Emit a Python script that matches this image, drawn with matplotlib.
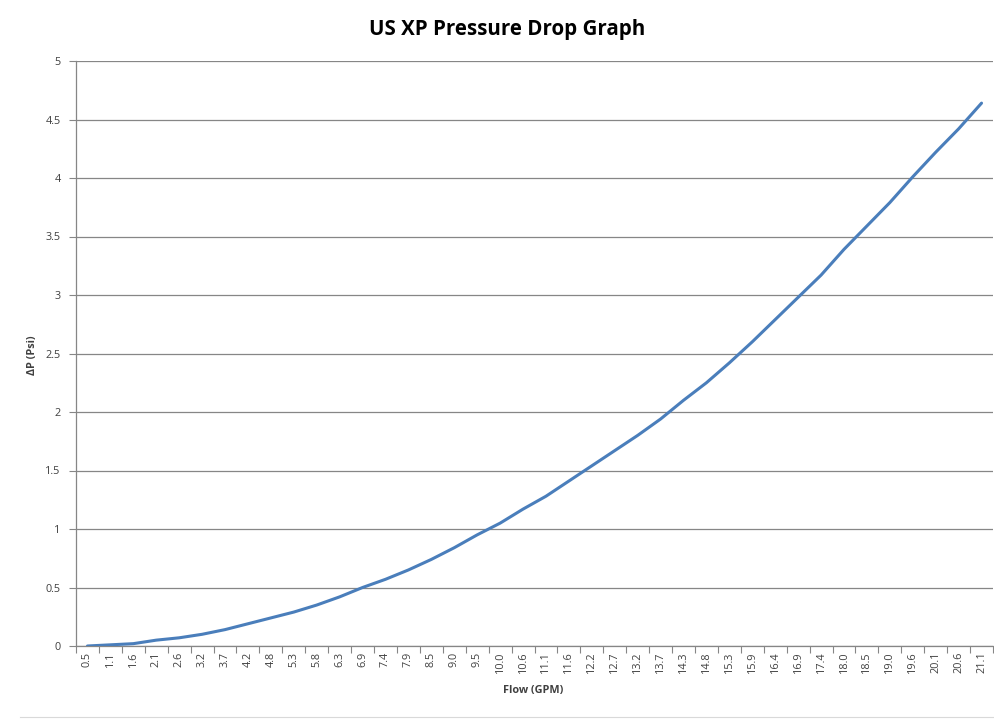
import matplotlib
matplotlib.use("Agg")
import matplotlib.pyplot as plt
from matplotlib.lines import Line2D
import numpy as np

flow_labels = ["0.5", "1.1", "1.6", "2.1", "2.6", "3.2", "3.7", "4.2", "4.8", "5.3",
               "5.8", "6.3", "6.9", "7.4", "7.9", "8.5", "9.0", "9.5", "10.0", "10.6",
               "11.1", "11.6", "12.2", "12.7", "13.2", "13.7", "14.3", "14.8", "15.3", "15.9",
               "16.4", "16.9", "17.4", "18.0", "18.5", "19.0", "19.6", "20.1", "20.6", "21.1"]
dp_values = [0.00, 0.01, 0.02, 0.05, 0.07, 0.10, 0.14, 0.19, 0.24, 0.29,
             0.35, 0.42, 0.50, 0.57, 0.65, 0.74, 0.84, 0.95, 1.05, 1.17,
             1.28, 1.41, 1.54, 1.67, 1.80, 1.94, 2.10, 2.25, 2.42, 2.60,
             2.79, 2.98, 3.17, 3.39, 3.59, 3.79, 4.01, 4.22, 4.42, 4.64]
y_ticks = [0, 0.5, 1, 1.5, 2, 2.5, 3, 3.5, 4, 4.5, 5]
y_tick_labels = ["0", "0.5", "1", "1.5", "2", "2.5", "3", "3.5", "4", "4.5", "5"]

plt.rcParams['font.family'] = ['Open Sans', 'DejaVu Sans']

fig = plt.figure(figsize=(9.95, 7.19), dpi=100)
ax = fig.add_axes([76/995, 1-646/719, (993-76)/995, (646-61)/719])

x = np.arange(len(flow_labels))
ax.plot(x, dp_values, color='#4A7EBB', lw=2.2, solid_capstyle='round', zorder=3)

ax.set_xlim(-0.5, len(flow_labels) - 0.5)
ax.set_ylim(0, 5)
ax.set_yticks(y_ticks)
ax.set_yticklabels(y_tick_labels)
ax.set_xticks(x)
ax.set_xticklabels(flow_labels, rotation=90)
ax.set_xticks(np.arange(-0.5, len(flow_labels), 1.0), minor=True)

ax.tick_params(axis='x', which='major', length=0, labelsize=7.8, colors='#404040', pad=4)
ax.tick_params(axis='x', which='minor', length=5, color='#868686', width=0.8)
ax.tick_params(axis='y', which='major', length=5, color='#868686', width=0.8,
               labelsize=7.8, labelcolor='#404040', pad=6)

ax.yaxis.grid(True, color='#868686', lw=0.9)
ax.set_axisbelow(True)
for side in ['top', 'right']:
    ax.spines[side].set_visible(False)
for side in ['left', 'bottom']:
    ax.spines[side].set_color('#868686')
    ax.spines[side].set_linewidth(0.9)

fig.text(507/995, 1-30/719, "US XP Pressure Drop Graph", ha='center', va='center',
         fontsize=14.8, fontweight='bold', color='#000000')
fig.text(533/995, 1-691/719, "Flow (GPM)", ha='center', va='center',
         fontsize=7.8, fontweight='bold', color='#404040')
fig.text(33/995, 1-355/719, "ΔP (Psi)", ha='center', va='center', rotation=90,
         fontsize=7.8, fontweight='bold', color='#404040')

fig.add_artist(Line2D([0.02, 1.0], [1-717/719, 1-717/719], color='#D9D9D9', lw=0.8))

fig.savefig("out.png", dpi=100)
